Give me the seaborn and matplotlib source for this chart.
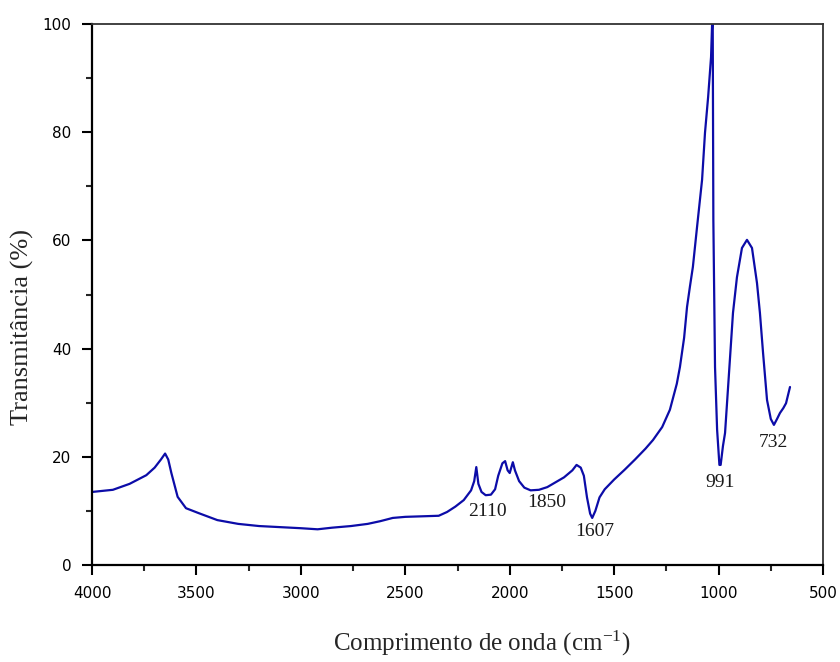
import matplotlib
matplotlib.use("Agg")
import matplotlib.pyplot as plt
import seaborn as sns
import pandas as pd
from matplotlib.ticker import MultipleLocator

# Data
wavenumber = [4000, 3900, 3820, 3740, 3700, 3670, 3650, 3635, 3620, 3590, 3550, 3490,
              3400, 3300, 3200, 3100, 3000, 2920, 2850, 2760, 2680, 2620, 2560, 2500,
              2420, 2340, 2300, 2260, 2220, 2185, 2170, 2160, 2150, 2135, 2115, 2090,
              2070, 2055, 2035, 2022, 2010, 2000, 1985, 1975, 1955, 1930, 1900, 1860,
              1820, 1780, 1740, 1700, 1680, 1660, 1645, 1630, 1615, 1605, 1590, 1570,
              1545, 1500, 1450, 1400, 1350, 1314, 1270, 1233, 1200, 1185, 1165, 1151,
              1137, 1123, 1103, 1079, 1065, 1050, 1036, 1031, 1028, 1025, 1017, 1007,
              996, 990, 979, 969, 945, 931, 912, 888, 864, 840, 816, 802, 787, 768,
              750, 735, 720, 706, 690, 677, 658]
transmittance = [13.5, 13.9, 15.0, 16.6, 18.0, 19.5, 20.6, 19.5, 17.0, 12.6, 10.5, 9.6,
                 8.3, 7.6, 7.2, 7.0, 6.8, 6.6, 6.9, 7.2, 7.6, 8.1, 8.7, 8.9,
                 9.0, 9.1, 9.8, 10.8, 12.0, 13.8, 15.5, 18.1, 15.0, 13.5, 12.9, 13.0,
                 14.0, 16.5, 18.8, 19.2, 17.5, 17.0, 19.0, 17.5, 15.5, 14.3, 13.8, 13.9,
                 14.4, 15.3, 16.2, 17.5, 18.5, 18.0, 16.5, 12.5, 9.5, 8.7, 10.0, 12.5,
                 14.0, 15.8, 17.6, 19.5, 21.5, 23.1, 25.5, 28.7, 33.5, 36.6, 42.0, 47.7,
                 51.5, 55.1, 62.5, 71.2, 79.9, 86.5, 93.9, 100.0, 100.0, 63.8, 36.6, 25.0,
                 18.5, 18.5, 22.0, 24.4, 38.4, 46.6, 53.2, 58.6, 60.1, 58.6, 52.1, 46.6, 39.2, 30.5,
                 27.0, 25.9, 27.0, 28.1, 29.0, 29.9, 32.9]

peak_labels = ["2110", "1850", "1607", "991", "732"]
peak_x = [2109, 1822, 1592, 993, 735]
peak_y = [9.8, 11.5, 6.1, 15.3, 22.6]

x_ticks = [4000, 3500, 3000, 2500, 2000, 1500, 1000, 500]
y_ticks = [0, 20, 40, 60, 80, 100]

df = pd.DataFrame({"wn": wavenumber, "T": transmittance})

sns.set_style("white")
plt.rcParams["font.family"] = ["DejaVu Sans"]
plt.rcParams["mathtext.fontset"] = "stix"

fig = plt.figure(figsize=(8.4, 6.62), dpi=100)
ax = fig.add_axes([92 / 840, 1 - 565 / 662, (823 - 92) / 840, (565 - 24) / 662])

sns.lineplot(data=df, x="wn", y="T", ax=ax, color="#0c0ca8", linewidth=1.6,
             sort=False, estimator=None)

ax.set_xlim(4000, 500)
ax.set_ylim(0, 100)
ax.set_xticks(x_ticks)
ax.set_xticklabels([str(t) for t in x_ticks])
ax.set_yticks(y_ticks)
ax.set_yticklabels([str(t) for t in y_ticks])
ax.xaxis.set_minor_locator(MultipleLocator(250))
ax.yaxis.set_minor_locator(MultipleLocator(10))

ax.tick_params(axis="both", which="major", direction="out", length=7, width=1.5,
               labelsize=11, colors="black", pad=8)
ax.tick_params(axis="both", which="minor", direction="out", length=4, width=1.5)
ax.tick_params(axis="x", which="both", bottom=True)
ax.tick_params(axis="y", which="both", left=True)

for side in ["left", "bottom"]:
    ax.spines[side].set_color("black")
    ax.spines[side].set_linewidth(1.6)
for side in ["top", "right"]:
    ax.spines[side].set_color("#333333")
    ax.spines[side].set_linewidth(1.3)
    ax.spines[side].set_visible(True)

ax.set_xlabel("")
ax.set_ylabel("")
fig.text(482 / 840, 1 - 643 / 662, r"Comprimento de onda (cm$^{\mathregular{-1}}$)",
         ha="center", va="center", fontsize=18, family="Liberation Serif")
fig.text(22 / 840, 1 - 327 / 662, "Transmitância (%)", rotation=90,
         ha="center", va="center", fontsize=19, family="Liberation Serif")

for lab, xv, yv in zip(peak_labels, peak_x, peak_y):
    ax.text(xv, yv, lab, ha="center", va="center", fontsize=14,
            family="Liberation Serif", color="#1a1a1a")

fig.savefig("out.png", dpi=100)
